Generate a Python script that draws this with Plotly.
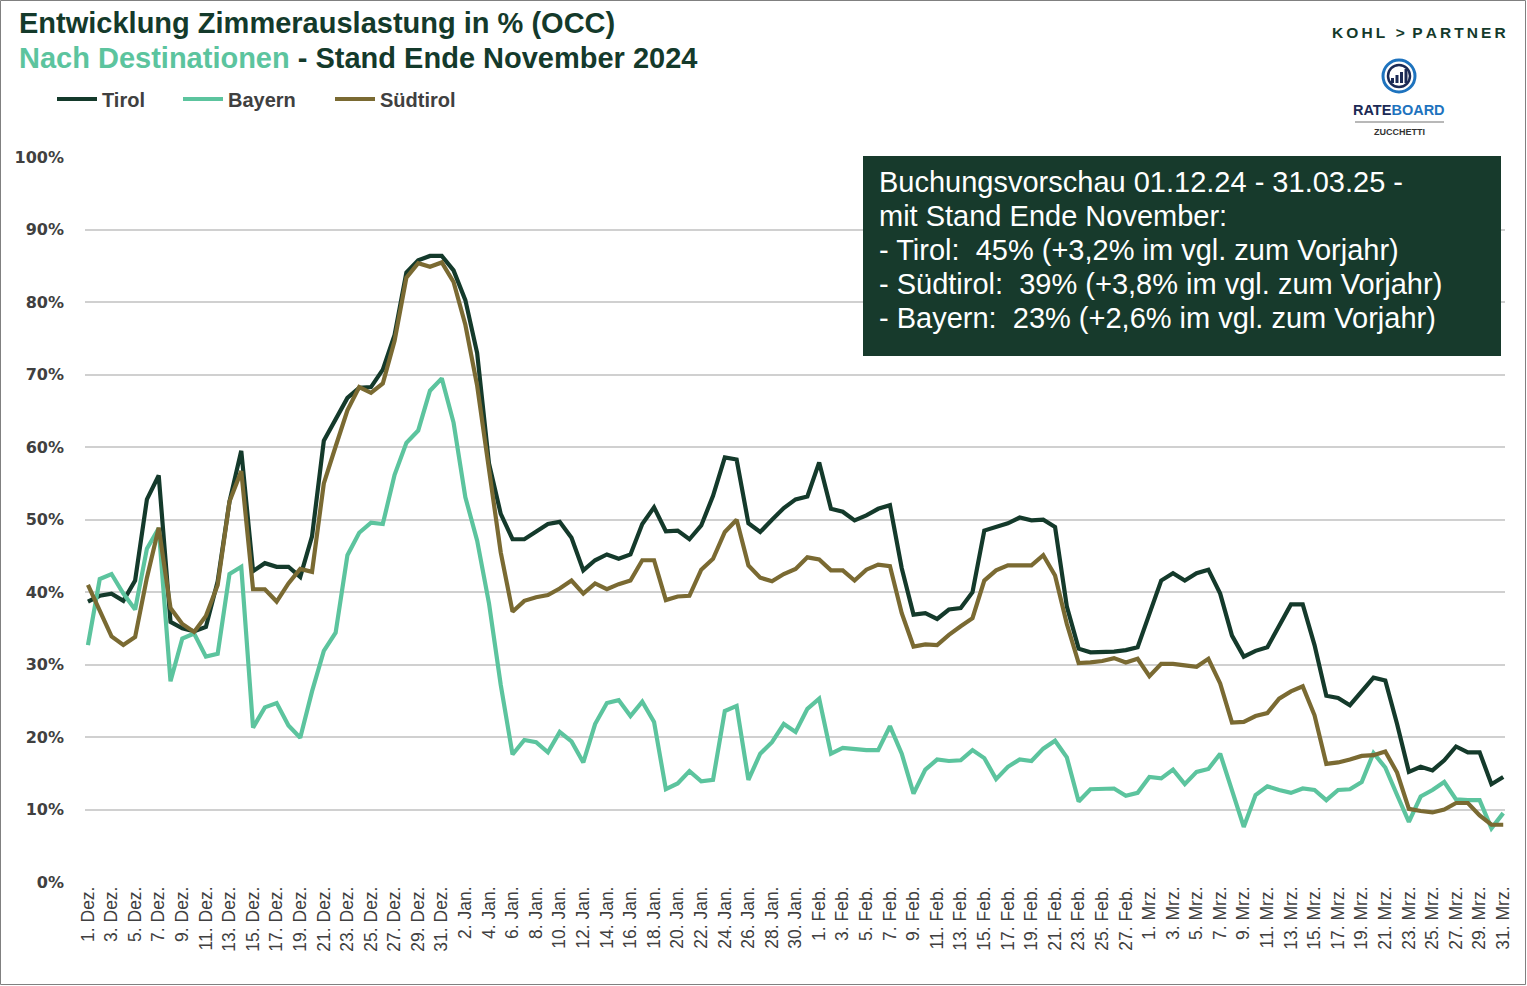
import plotly.graph_objects as go

# ---------------- data ----------------
months = [("Dez.", 31), ("Jan.", 31), ("Feb.", 28), ("Mrz.", 31)]
days = [f"{d}. {m}" for m, n in months for d in range(1, n + 1)]
tick_labels = days[::2]

tirol_dez = [38.7, 39.5, 39.8, 38.8, 41.6, 52.8, 56.1, 35.9, 35.0, 34.6, 35.2, 41.5, 52.5, 59.5, 42.9,
             44.0, 43.5, 43.5, 42.1, 47.7, 60.9, 64.0, 66.8, 68.2, 68.3, 70.7, 75.5, 84.1, 85.8, 86.4, 86.4]
tirol_jan = [84.4, 80.3, 73.0, 57.8, 50.8, 47.3, 47.3, 48.4, 49.4, 49.7, 47.5, 43.0, 44.4, 45.2, 44.6,
             45.2, 49.4, 51.7, 48.4, 48.5, 47.3, 49.2, 53.3, 58.6, 58.3, 49.5, 48.3, 50.0, 51.6, 52.8, 53.2]
tirol_feb = [57.9, 51.5, 51.1, 49.9, 50.6, 51.5, 52.0, 43.3, 36.9, 37.1, 36.3, 37.6, 37.8, 40.0,
             48.5, 49.0, 49.5, 50.3, 49.9, 50.0, 49.0, 38.0, 32.2, 31.7, 31.7, 31.8, 32.0, 32.4]
tirol_mrz = [37.0, 41.6, 42.6, 41.6, 42.6, 43.1, 39.8, 34.0, 31.1, 31.9, 32.4, 35.4, 38.3, 38.3, 32.7,
             25.7, 25.4, 24.4, 26.4, 28.2, 27.8, 21.8, 15.2, 15.9, 15.4, 16.8, 18.7, 17.9, 17.9, 13.5, 14.5]

bayern_dez = [32.7, 41.8, 42.5, 39.8, 37.6, 46.0, 48.8, 27.7, 33.6, 34.3, 31.1, 31.5, 42.5, 43.5, 21.3,
              24.1, 24.7, 21.6, 19.9, 26.3, 31.9, 34.4, 45.1, 48.2, 49.6, 49.4, 56.2, 60.6, 62.3, 67.8, 69.5]
bayern_jan = [63.4, 53.1, 47.1, 38.5, 27.2, 17.6, 19.6, 19.3, 17.9, 20.7, 19.4, 16.5, 21.8, 24.7, 25.1,
              22.9, 24.9, 22.1, 12.8, 13.6, 15.3, 13.9, 14.1, 23.6, 24.3, 14.1, 17.7, 19.3, 21.8, 20.7, 23.9]
bayern_feb = [25.3, 17.7, 18.5, 18.3, 18.2, 18.2, 21.5, 17.7, 12.2, 15.5, 16.9, 16.7, 16.8, 18.2,
              17.1, 14.2, 15.9, 16.9, 16.7, 18.4, 19.5, 17.2, 11.1, 12.8, 12.9, 12.9, 11.9, 12.3]
bayern_mrz = [14.5, 14.3, 15.5, 13.5, 15.2, 15.6, 17.7, 12.7, 7.6, 12.0, 13.2, 12.7, 12.3, 12.9, 12.7,
              11.3, 12.7, 12.8, 13.8, 17.8, 15.8, 12.0, 8.3, 11.8, 12.7, 13.8, 11.4, 11.3, 11.3, 7.4, 9.5]

suedtirol_dez = [41.0, 37.3, 33.9, 32.7, 33.8, 42.0, 48.9, 37.8, 35.6, 34.5, 36.7, 41.0, 52.5, 56.7, 40.4,
                 40.4, 38.7, 41.2, 43.2, 42.8, 55.0, 60.1, 65.1, 68.3, 67.5, 68.8, 74.7, 83.4, 85.4, 84.9, 85.5]
suedtirol_jan = [82.8, 76.9, 68.5, 57.2, 45.5, 37.3, 38.8, 39.3, 39.6, 40.5, 41.6, 39.8, 41.2, 40.4, 41.1,
                 41.6, 44.4, 44.4, 38.9, 39.4, 39.5, 43.1, 44.6, 48.3, 50.0, 43.7, 42.0, 41.5, 42.5, 43.2, 44.8]
suedtirol_feb = [44.5, 43.0, 43.0, 41.6, 43.1, 43.8, 43.6, 37.1, 32.5, 32.8, 32.7, 34.1, 35.3, 36.4,
                 41.6, 43.0, 43.7, 43.7, 43.7, 45.1, 42.3, 35.6, 30.2, 30.3, 30.5, 30.9, 30.3, 30.8]
suedtirol_mrz = [28.4, 30.1, 30.1, 29.9, 29.7, 30.8, 27.4, 22.0, 22.1, 22.9, 23.3, 25.3, 26.3, 27.0, 23.0,
                 16.3, 16.5, 16.9, 17.4, 17.5, 18.0, 15.1, 10.1, 9.8, 9.6, 10.0, 10.9, 10.9, 9.2, 7.9, 7.9]

tirol = tirol_dez + tirol_jan + tirol_feb + tirol_mrz
bayern = bayern_dez + bayern_jan + bayern_feb + bayern_mrz
suedtirol = suedtirol_dez + suedtirol_jan + suedtirol_feb + suedtirol_mrz

y_ticks = [0, 10, 20, 30, 40, 50, 60, 70, 80, 90, 100]
y_tick_text = [f"{v}%" for v in y_ticks]

info_lines = [
    "Buchungsvorschau 01.12.24 - 31.03.25 -",
    "mit Stand Ende November:",
    "- Tirol:\u00a0 45% (+3,2% im vgl. zum Vorjahr)",
    "- Südtirol:\u00a0 39% (+3,8% im vgl. zum Vorjahr)",
    "- Bayern:\u00a0 23% (+2,6% im vgl. zum Vorjahr)",
]

# ---------------- styling ----------------
W, H = 1527, 986
L, R, T, B = 85, 22, 157, 104
PW, PH = W - L - R, H - T - B

C_TIROL = "#143A2B"
C_BAYERN = "#5CC49E"
C_SUED = "#7A6A32"
C_TEXT = "#404040"
FONT = "Liberation Sans, Arial, sans-serif"


def px(x):
    return (x - L) / PW


def py(y):
    return (H - B - y) / PH


series = [("Tirol", tirol, C_TIROL, "legend", 52),
          ("Bayern", bayern, C_BAYERN, "legend2", 178),
          ("Südtirol", suedtirol, C_SUED, "legend3", 330)]

fig = go.Figure()
legend_layout = {}
for name, vals, col, lg, lx in series:
    fig.add_trace(go.Scatter(
        x=days, y=vals, mode="lines", name=f"<b>{name}</b>", legend=lg,
        line=dict(color=col, width=4.2),
    ))
    legend_layout[lg] = dict(
        orientation="h", x=px(lx), y=py(99), xanchor="left", yanchor="middle",
        font=dict(size=20, color=C_TEXT, family=FONT),
        itemwidth=40, bgcolor="rgba(0,0,0,0)",
    )

fig.update_layout(
    width=W, height=H,
    margin=dict(l=L, r=R, t=T, b=B),
    paper_bgcolor="white", plot_bgcolor="white",
    font=dict(family=FONT, color=C_TEXT),
    showlegend=True,
    xaxis=dict(
        type="category", categoryorder="array", categoryarray=days,
        range=[-0.25, 120.15],
        tickmode="array", tickvals=tick_labels, ticktext=tick_labels,
        tickangle=-90, tickfont=dict(size=17.5, color=C_TEXT, family=FONT),
        showgrid=False, showline=False, zeroline=False, ticks="", ticklen=0,
    ),
    yaxis=dict(
        range=[0, 100.05], tickmode="array", tickvals=y_ticks, ticktext=y_tick_text,
        tickfont=dict(size=16, color=C_TEXT, family="DejaVu Sans", weight="bold"),
        showgrid=True, gridcolor="#D0D0D0", gridwidth=1.5,
        zeroline=False, showline=False, ticks="", ticklabelstandoff=20,
    ),
    **legend_layout,
)

shapes = []
annotations = []

# outer border
shapes.append(dict(type="rect", xref="paper", yref="paper",
                   x0=px(0.5), x1=px(W - 1.5), y0=py(0.5), y1=py(H - 1.5),
                   line=dict(color="#808080", width=1), fillcolor="rgba(0,0,0,0)", layer="below"))

# title
annotations.append(dict(xref="paper", yref="paper", x=px(17), y=py(23), xanchor="left", yanchor="middle",
                        text="<b>Entwicklung Zimmerauslastung in % (OCC)</b>", showarrow=False,
                        font=dict(size=29, color=C_TIROL, family=FONT)))
annotations.append(dict(xref="paper", yref="paper", x=px(17), y=py(58), xanchor="left", yanchor="middle",
                        text=f"<b><span style='color:{C_BAYERN}'>Nach Destinationen</span> - Stand Ende November 2024</b>",
                        showarrow=False, font=dict(size=29, color=C_TIROL, family=FONT)))

# info box
shapes.append(dict(type="rect", xref="paper", yref="paper",
                   x0=px(863), x1=px(1501), y0=py(156), y1=py(356),
                   fillcolor="#173A2C", line=dict(color="#173A2C", width=0), layer="above"))
for i, line in enumerate(info_lines):
    annotations.append(dict(xref="paper", yref="paper", x=px(877), y=py(182 + 34 * i),
                            xanchor="left", yanchor="middle", text=line, showarrow=False,
                            font=dict(size=29, color="white", family=FONT)))

# KOHL > PARTNER logo text
annotations.append(dict(xref="paper", yref="paper", x=px(1419), y=py(33), xanchor="center", yanchor="middle",
                        text="<b>K\u2009O\u2009H\u2009L\u2009\u2009 &gt; \u2009P\u2009A\u2009R\u2009T\u2009N\u2009E\u2009R</b>",
                        showarrow=False, font=dict(size=15.5, color=C_TIROL, family=FONT)))

# RATEBOARD icon (approximation)
cx, cy, r = 1399, 76, 16
shapes.append(dict(type="circle", xref="paper", yref="paper",
                   x0=px(cx - r), x1=px(cx + r), y0=py(cy + r), y1=py(cy - r),
                   line=dict(color="#1E73BE", width=3), fillcolor="white", layer="above"))
shapes.append(dict(type="circle", xref="paper", yref="paper",
                   x0=px(cx - r + 5), x1=px(cx + r - 5), y0=py(cy + r - 5), y1=py(cy - r + 5),
                   line=dict(color="#1B2A55", width=2.5), fillcolor="white", layer="above"))
for k, hgt in enumerate([5, 8, 11, 14]):
    bx = cx - 8 + k * 4.5
    shapes.append(dict(type="rect", xref="paper", yref="paper",
                       x0=px(bx), x1=px(bx + 3), y0=py(cy + 7), y1=py(cy + 7 - hgt),
                       line=dict(width=0), fillcolor="#1B2A55", layer="above"))
annotations.append(dict(xref="paper", yref="paper", x=px(1399), y=py(110), xanchor="center", yanchor="middle",
                        text="<b><span style='color:#1B2A55'>RATE</span><span style='color:#1E73BE'>BOARD</span></b>",
                        showarrow=False, font=dict(size=14.5, family=FONT)))
shapes.append(dict(type="line", xref="paper", yref="paper",
                   x0=px(1355), x1=px(1444), y0=py(122), y1=py(122),
                   line=dict(color="#A0A0A0", width=1.5)))
annotations.append(dict(xref="paper", yref="paper", x=px(1399), y=py(132), xanchor="center", yanchor="middle",
                        text="<b>ZUCCHETTI</b>", showarrow=False,
                        font=dict(size=9, color="#333333", family=FONT)))

fig.update_layout(shapes=shapes, annotations=annotations)

fig.write_html("out.html", config={"displayModeBar": False},
               post_script="document.body.style.margin='0px';")
